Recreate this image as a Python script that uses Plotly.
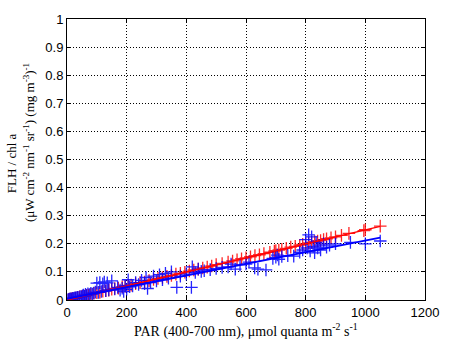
import plotly.graph_objects as go

red_x = [5,10,15,20,28,35,42,50,58,65,72,80,90,100,110,120,130,140,150,160,172,185,195,205,215,230,245,260,275,290,305,320,335,350,365,380,395,410,425,440,455,470,485,500,520,540,555,570,585,600,615,630,645,660,680,695,700,710,720,735,750,765,780,790,800,810,820,830,840,850,860,870,885,900,920,945,995,1000,1050]
red_y = [0.002,0.003,0.004,0.006,0.007,0.010,0.011,0.013,0.014,0.017,0.018,0.020,0.024,0.026,0.027,0.031,0.033,0.035,0.038,0.041,0.042,0.047,0.049,0.052,0.053,0.058,0.062,0.064,0.069,0.073,0.077,0.080,0.084,0.087,0.092,0.095,0.099,0.103,0.107,0.110,0.114,0.117,0.121,0.126,0.130,0.135,0.139,0.143,0.147,0.150,0.154,0.158,0.161,0.165,0.170,0.174,0.176,0.178,0.180,0.184,0.188,0.191,0.195,0.198,0.200,0.203,0.205,0.208,0.210,0.212,0.215,0.218,0.221,0.225,0.230,0.237,0.247,0.250,0.263]

blue_x = [3,6,8,10,12,15,18,20,22,25,28,30,33,36,40,44,48,52,55,58,62,66,70,75,80,85,90,95,100,105,110,115,120,125,130,135,140,150,160,170,178,185,190,195,200,205,210,220,230,240,250,260,265,270,280,290,300,310,320,330,340,350,368,380,400,417,420,430,440,450,460,480,500,520,540,550,564,580,600,610,629,640,667,690,700,705,710,720,740,760,780,790,800,805,810,815,820,825,830,835,840,845,850,860,870,880,900,950,1000,1050]
blue_y = [0.001,0.002,0.003,0.002,0.004,0.003,0.005,0.006,0.004,0.007,0.008,0.006,0.009,0.010,0.009,0.012,0.011,0.015,0.018,0.013,0.020,0.016,0.022,0.019,0.024,0.021,0.025,0.028,0.060,0.027,0.062,0.030,0.058,0.064,0.033,0.061,0.036,0.068,0.039,0.045,0.035,0.042,0.030,0.050,0.038,0.072,0.047,0.050,0.062,0.055,0.070,0.058,0.080,0.041,0.062,0.085,0.068,0.090,0.072,0.095,0.078,0.100,0.045,0.085,0.092,0.045,0.118,0.098,0.110,0.102,0.104,0.108,0.112,0.116,0.118,0.128,0.110,0.125,0.128,0.135,0.114,0.110,0.107,0.148,0.152,0.160,0.145,0.155,0.158,0.156,0.170,0.178,0.215,0.185,0.232,0.175,0.225,0.190,0.168,0.205,0.185,0.195,0.178,0.200,0.188,0.195,0.200,0.205,0.200,0.210]

fit_x = [0, 1050]
red_fit_y = [0.0, 0.262]
blue_fit_y = [0.004, 0.222]

x_ticks = [0, 200, 400, 600, 800, 1000, 1200]
y_ticks = [0, 0.1, 0.2, 0.3, 0.4, 0.5, 0.6, 0.7, 0.8, 0.9, 1]
y_tick_text = ["0", "0.1", "0.2", "0.3", "0.4", "0.5", "0.6", "0.7", "0.8", "0.9", "1"]

fig = go.Figure()
fig.add_trace(go.Scatter(x=red_x, y=red_y, mode="markers",
                         marker=dict(symbol="cross-thin-open", size=9, color="#FF0000",
                                     line=dict(color="#FF0000", width=1.3)),
                         opacity=0.85, showlegend=False))
fig.add_trace(go.Scatter(x=blue_x, y=blue_y, mode="markers",
                         marker=dict(symbol="cross-thin-open", size=9, color="#0000FF",
                                     line=dict(color="#0000FF", width=1.3)),
                         opacity=0.85, showlegend=False))
fig.add_trace(go.Scatter(x=fit_x, y=red_fit_y, mode="lines",
                         line=dict(color="#FF0000", width=1.5), showlegend=False))
fig.add_trace(go.Scatter(x=fit_x, y=blue_fit_y, mode="lines",
                         line=dict(color="#0000FF", width=2), showlegend=False))

axis_common = dict(showline=True, linecolor="black", linewidth=1, mirror="ticks",
                   ticks="inside", ticklen=4, tickcolor="black",
                   showgrid=True, gridcolor="black", griddash="1px,2px", gridwidth=1,
                   zeroline=False,
                   tickfont=dict(family="Liberation Sans, Arial", size=13, color="black"))

title_font = dict(family="Liberation Serif, Times New Roman", size=13, color="black")

fig.update_layout(
    width=451, height=345,
    margin=dict(l=67, r=16, t=12, b=45),
    paper_bgcolor="white", plot_bgcolor="white",
    xaxis=dict(range=[0, 1200], tickvals=x_ticks, **axis_common),
    yaxis=dict(range=[0, 1], tickvals=y_ticks, ticktext=y_tick_text, **axis_common),
    annotations=[
        dict(text="PAR (400-700 nm), μmol quanta m<sup>-2</sup> s<sup>-1</sup>",
             xref="paper", yref="paper", x=0.5, y=-0.108, xanchor="center", yanchor="middle",
             showarrow=False, font=dict(family="Liberation Serif, Times New Roman", size=14, color="black")),
        dict(text="FLH / chl a",
             xref="paper", yref="paper", x=-0.155, y=0.485, xanchor="center", yanchor="middle",
             textangle=-90, showarrow=False, font=title_font),
        dict(text="(μW cm<sup>-2</sup> nm<sup>-1</sup> sr<sup>-1</sup>) (mg m<sup>-3</sup>)<sup>-1</sup>",
             xref="paper", yref="paper", x=-0.108, y=0.56, xanchor="center", yanchor="middle",
             textangle=-90, showarrow=False, font=title_font),
    ],
)

fig.write_html("out.html")
